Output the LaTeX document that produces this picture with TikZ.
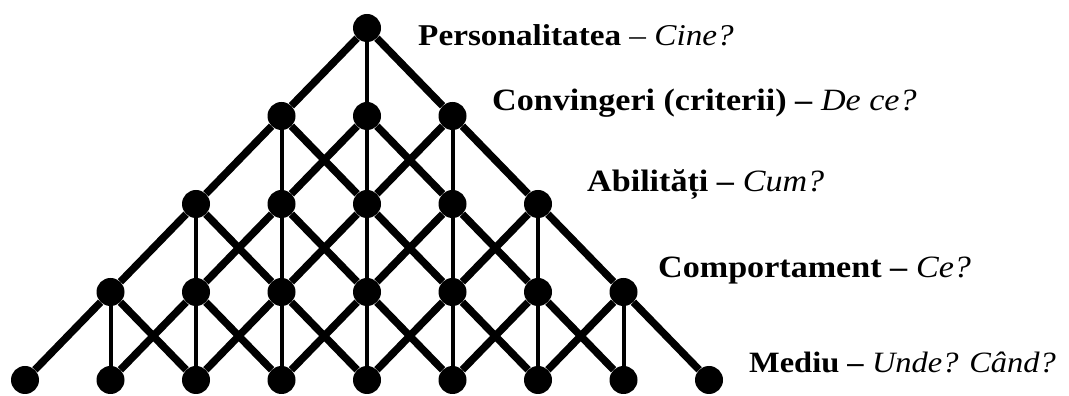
\documentclass[tikz,border=0pt]{standalone}
\usepackage{fontspec}
\setmainfont[FakeStretch=1.1]{Liberation Serif}

\begin{document}
\begin{tikzpicture}[x=1pt,y=1pt,
  dot/.style={circle,fill=black,inner sep=0pt,minimum size=28pt},
  diag/.style={line width=7.5pt},
  vert/.style={line width=4pt},
  lbl/.style={anchor=base west,inner sep=0pt,font=\fontsize{31}{36}\selectfont}]
\useasboundingbox (0,0) rectangle (1069,396);

% nodes of the pyramid
\foreach \r in {0,...,4} {
  \pgfmathtruncatemacro{\kmax}{2*\r}
  \foreach \k in {0,...,\kmax}
    \node[dot] (n-\r-\k) at ({367+(\k-\r)*85.5},{368-88*\r}) {};
}

% links to the row below
\foreach \r in {0,...,3} {
  \pgfmathtruncatemacro{\kmax}{2*\r}
  \pgfmathtruncatemacro{\rb}{\r+1}
  \foreach \k in {0,...,\kmax} {
    \pgfmathtruncatemacro{\kc}{\k+1}
    \pgfmathtruncatemacro{\kr}{\k+2}
    \draw[diag] (n-\r-\k) -- (n-\rb-\k);
    \draw[vert] (n-\r-\k) -- (n-\rb-\kc);
    \draw[diag] (n-\r-\k) -- (n-\rb-\kr);
  }
}

\node[lbl,font=\fontsize{30.2}{36}\selectfont] (personalitate) at (418,350) {\textbf{Personalitatea} – \textit{Cine?}};
\node[lbl] (convingeri) at (492,285) {\textbf{Convingeri (criterii) –} \textit{De ce?}};
\node[lbl] (abilitati) at (587,204) {\textbf{Abilități –} \textit{Cum?}};
\node[lbl] (comportament) at (658,118) {\textbf{Comportament –} \textit{Ce?}};
\node[lbl,font=\fontsize{29.5}{36}\selectfont] (mediu) at (749,23) {\textbf{Mediu –} \textit{Unde? Când?}};
\end{tikzpicture}
\end{document}
